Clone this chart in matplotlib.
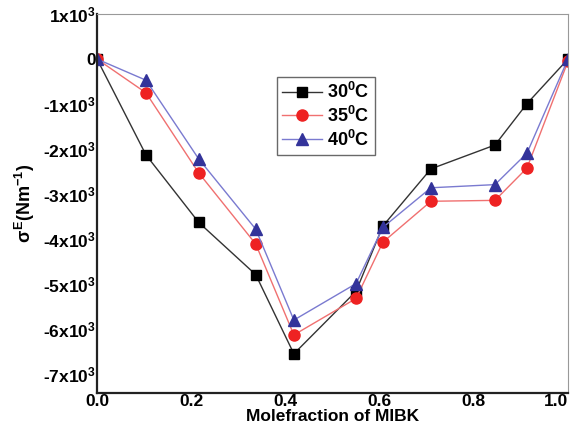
import matplotlib
matplotlib.use('Agg')
import matplotlib.pyplot as plt

plt.rcParams['font.family'] = 'Liberation Sans'
plt.rcParams['font.weight'] = 'bold'
plt.rcParams['axes.labelweight'] = 'bold'
plt.rcParams['mathtext.fontset'] = 'custom'
plt.rcParams['mathtext.rm'] = 'Liberation Sans:bold'
plt.rcParams['mathtext.it'] = 'Liberation Sans:bold'
plt.rcParams['mathtext.bf'] = 'Liberation Sans:bold'

# mole fraction of MIBK
x = [0.0, 0.104, 0.216, 0.337, 0.418, 0.55, 0.607, 0.709, 0.845, 0.913, 1.0]
# surface tension deviation, Nm^-1
s30 = [0, -2130, -3630, -4790, -6550, -5160, -3710, -2440, -1910, -990, 0]
s35 = [0, -750, -2530, -4110, -6130, -5320, -4070, -3160, -3140, -2420, -50]
s40 = [0, -470, -2220, -3780, -5800, -4990, -3740, -2860, -2790, -2090, 0]

yticks = [1000, 0, -1000, -2000, -3000, -4000, -5000, -6000, -7000]
ylabs = ['1x10$^{3}$', '0', '-1x10$^{3}$', '-2x10$^{3}$', '-3x10$^{3}$',
         '-4x10$^{3}$', '-5x10$^{3}$', '-6x10$^{3}$', '-7x10$^{3}$']
xticks = [0.0, 0.2, 0.4, 0.6, 0.8, 1.0]

fig = plt.figure(figsize=(5.74, 4.26), dpi=100)
ax = fig.add_axes([0.169, 0.0775, 0.8205, 0.8895])

ax.plot(x, s30, color='#333333', lw=1, marker='s', ms=7, mfc='black', mec='black',
        label='30$^{0}$C')
ax.plot(x, s35, color='#f07070', lw=1, marker='o', ms=8, mfc='#ee2222', mec='#ee2222',
        label='35$^{0}$C')
ax.plot(x, s40, color='#7a7ad0', lw=1, marker='^', ms=8, mfc='#33339a', mec='#33339a',
        label='40$^{0}$C')

ax.set_xlim(0, 1.0)
ax.set_ylim(-7420, 970)
ax.set_xticks(xticks)
ax.set_xticklabels(['%.1f' % v for v in xticks], fontsize=12.5)
ax.get_xticklabels()[-1].set_horizontalalignment('right')
ax.set_yticks(yticks)
ax.set_yticklabels(ylabs, fontsize=12.5)
ax.tick_params(length=0, pad=1)

ax.set_xlabel('Molefraction of MIBK', fontsize=12.5, fontweight='bold', labelpad=0)
ax.set_ylabel(r'$\sigma^{E}$(Nm$^{-1}$)', fontsize=13, labelpad=4)

ax.spines['left'].set_linewidth(1.6)
ax.spines['bottom'].set_linewidth(1.6)
ax.spines['left'].set_color('#222222')
ax.spines['bottom'].set_color('#222222')
ax.spines['top'].set_color('#999999')
ax.spines['right'].set_color('#999999')

leg = ax.legend(loc='upper left', bbox_to_anchor=(0.382, 0.835), fontsize=13,
                frameon=True, fancybox=False, borderpad=0.3, labelspacing=0.2,
                handlelength=2.2, handletextpad=0.3, borderaxespad=0)
leg.get_frame().set_edgecolor('#444444')
leg.get_frame().set_linewidth(1)

fig.savefig('out.png', dpi=100)
